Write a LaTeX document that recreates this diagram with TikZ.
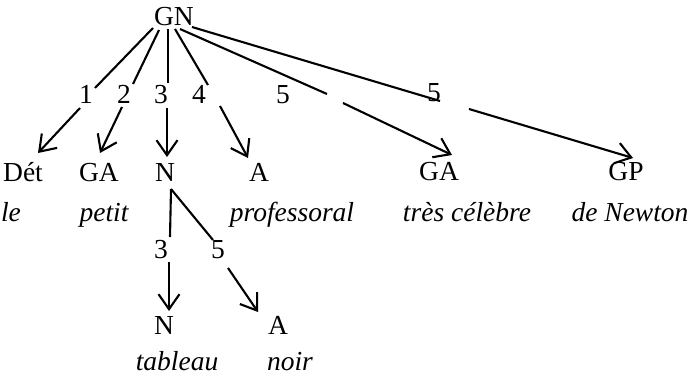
\documentclass[tikz,border=0pt]{standalone}
\usepackage{fontspec}
\setmainfont{Liberation Serif}
\usetikzlibrary{arrows.meta}
\begin{document}
\begin{tikzpicture}[x=1pt,y=-1pt,
  word/.style={inner sep=0pt,anchor=base,font=\fontsize{27.5}{32}\selectfont},
  gloss/.style={word,font=\fontsize{27.5}{32}\selectfont\itshape},
  link/.style={line width=2.1pt},
  dep/.style={line width=2.1pt,-{Straight Barb[length=15pt,width=21pt,line width=2.1pt]}}]
\useasboundingbox (0,0) rectangle (690,378);

% head and dependency numbers
\node[word] (gn) at (174,25) {GN};
\node[word] (l1) at (86,103) {1};
\node[word] (l2) at (124,103) {2};
\node[word] (l3) at (161,103) {3};
\node[word] (l4) at (199,103) {4};
\node[word] (l5a) at (283,103) {5};
\node[word] (l5b) at (434,101) {5};

% first level categories and words
\node[word] (det) at (23,181) {Dét};
\node[word] (ga) at (99,181) {GA};
\node[word] (n) at (165,181) {N};
\node[word] (a) at (259,181) {A};
\node[word] (ga2) at (439,180) {GA};
\node[word] (gp) at (626,180) {GP};
\node[gloss] (w1) at (11,221) {le};
\node[gloss] (w2) at (104,221) {petit};
\node[gloss] (w4) at (292,221) {professoral};
\node[gloss] (w5) at (467,221) {très célèbre};
\node[gloss] (w6) at (630,221) {de Newton};

% second level under N
\node[word] (m3) at (161,258) {3};
\node[word] (m5) at (218,258) {5};
\node[word] (nn) at (164,334) {N};
\node[word] (aa) at (278,334) {A};
\node[gloss] (w3) at (177,370) {tableau};
\node[gloss] (w7) at (290,370) {noir};

% end points of the broken connectors
\coordinate (g1) at (153,28);  \coordinate (e1) at (95,88);
\coordinate (s1) at (80,108);  \coordinate (t1) at (38,153);
\coordinate (g2) at (159,30);  \coordinate (e2) at (133,84);
\coordinate (s2) at (122,107); \coordinate (t2) at (100,153);
\coordinate (g3) at (168,29);  \coordinate (e3) at (168,83);
\coordinate (s3) at (167,108); \coordinate (t3) at (167,157);
\coordinate (g4) at (175,29);  \coordinate (e4) at (208,85);
\coordinate (s4) at (220,106); \coordinate (t4) at (248,158);
\coordinate (g5) at (180,29);  \coordinate (e5) at (327,94);
\coordinate (s5) at (343,103); \coordinate (t5) at (452,155);
\coordinate (g6) at (192,27);  \coordinate (e6) at (440,101);
\coordinate (s6) at (469,109); \coordinate (t6) at (633,158);
\coordinate (nb) at (171,189);
\coordinate (e7) at (170,237); \coordinate (s7) at (169,262); \coordinate (t7) at (169,311);
\coordinate (e8) at (213,240); \coordinate (s8) at (228,268); \coordinate (t8) at (258,312);

% connectors
\draw[link] (g1) -- (e1);  \draw[dep] (s1) -- (t1);
\draw[link] (g2) -- (e2);  \draw[dep] (s2) -- (t2);
\draw[link] (g3) -- (e3);  \draw[dep] (s3) -- (t3);
\draw[link] (g4) -- (e4);  \draw[dep] (s4) -- (t4);
\draw[link] (g5) -- (e5);  \draw[dep] (s5) -- (t5);
\draw[link] (g6) -- (e6);  \draw[dep] (s6) -- (t6);
\draw[link] (nb) -- (e7);  \draw[dep] (s7) -- (t7);
\draw[link] (nb) -- (e8);  \draw[dep] (s8) -- (t8);
\end{tikzpicture}
\end{document}
